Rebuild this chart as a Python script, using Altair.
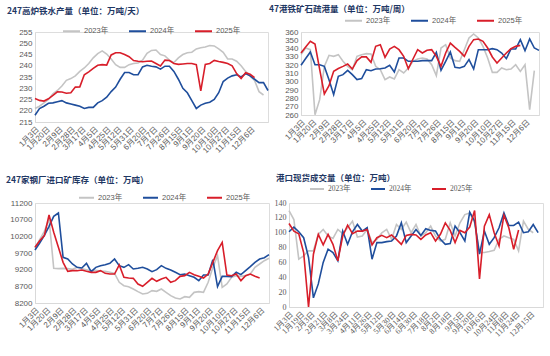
import altair as alt
import pandas as pd

YEARS = ["2023年", "2024年", "2025年"]
COLORS = ["#C4C4C4", "#1F4E9C", "#D81E2A"]

LABELS_A = ["1月3日", "1月20日", "2月9日", "2月28日", "3月17日", "4月5日", "4月25日",
            "5月12日", "5月31日", "6月20日", "7月7日", "7月26日", "8月15日", "9月1日",
            "9月20日", "10月10日", "10月27日", "11月15日", "12月6日"]
LABELS_B = ["1月3日", "1月19日", "2月3日", "2月21日", "3月8日", "3月24日", "4月11日",
            "4月26日", "5月12日", "5月30日", "6月14日", "6月30日", "7月18日", "8月2日",
            "8月18日", "9月5日", "9月20日", "10月6日", "10月24日", "11月8日", "11月24日",
            "12月15日"]

# 247 blast furnace hot metal output (10k t/day), weekly
c1_2023 = [221, 222, 223.5, 225, 227.5, 229, 231, 233.5, 234.3, 235.5, 237.5, 239, 241, 243.5,
           245.4, 246.6, 245.2, 243, 240.5, 239.3, 239.3, 240.5, 241, 241.2, 242.5, 245.5, 246.8,
           247, 245, 244.4, 242.5, 241.4, 243.5, 245, 245.8, 246, 247.5, 248, 248.3, 249, 248.8,
           247.5, 246, 243, 243, 242, 240, 237.5, 235.5, 233.5, 228.5, 227]
c1_2024 = [218, 221, 222, 223.3, 223.5, 224, 224.5, 223.5, 223, 222.5, 222, 221, 221.5, 221.5,
           223.5, 224.5, 226, 228.5, 230.5, 234, 237, 237, 236, 236, 239.5, 240.2, 239.8, 239.5,
           238.5, 239.8, 239.8, 237.5, 234, 230, 228, 224.5, 221, 222.5, 223.3, 223.8, 225, 228,
           233, 234.5, 235.5, 236, 235, 236.5, 235.5, 234, 232.5, 232.5, 229]
c1_2025 = [225.4, 224.6, 224.3, 225.3, 226.8, 228.4, 228.3, 227.8, 228, 230.5, 230.6, 236, 237.3,
           238.8, 240.2, 240.5, 240.3, 244.8, 245.8, 245.8, 245, 244, 242.3, 242, 241.8, 242,
           242.1, 241, 239.9, 242.5, 242.3, 241, 240.6, 240.8, 241, 241, 240.5, 228.8, 240.6,
           241, 242.4, 241.9, 241.5, 241, 240, 236.5, 234.3, 236.9, 236.2, 234.7]

# 47 ports iron ore port clearance (10k t/week)
c2_2023 = [333, 340.7, 338.7, 260.4, 278.5, 318.6, 331.9, 330.7, 332.7, 324.7, 318.6, 314.6, 330.7,
           332.7, 333.9, 333.5, 318.6, 314.6, 302.6, 305.8, 303.4, 314.6, 310.6, 316.6, 324.7,
           327.5, 328.7, 327.5, 320.6, 307.4, 340.7, 344.7, 328.7, 325.5, 324.7, 338.7, 352.8,
           357.6, 352.8, 342.7, 328.7, 311.4, 311.4, 316.6, 314.6, 315.4, 320.6, 312.6, 320.6,
           266.4, 313.4]
c2_2024 = [320, 328, 336, 320.6, 320.6, 318.6, 302.6, 284.5, 306.6, 308.6, 313.8, 308.6, 302.6,
           303.8, 314.6, 313.4, 315.4, 315.8, 316.6, 319.8, 311.8, 328.7, 328.7, 324.7, 324.7,
           324.7, 325.5, 325.5, 325.5, 335.5, 313.8, 324.7, 335.9, 317.4, 316.6, 318.6, 326.7,
           315.4, 338.7, 338.7, 338.7, 339.9, 338.7, 334.7, 327.9, 339.5, 339.5, 350.8, 337.5,
           351.6, 340.7, 337.9]
c2_2025 = [334.7, 342, 348.8, 345.5, 315, 285.3, 295.3, 312.6, 316, 318.6, 321.4, 315.4, 325.5,
           330, 330, 323.5, 342.7, 344.7, 329.5, 339.5, 342.7, 338.7, 330.7, 315.8, 327.5, 338.7,
           334.7, 338, 338.7, 330.7, 318.6, 334.7, 346.7, 341.5, 336.7, 330.7, 342.7, 350.8, 351.6,
           348.8, 340.7, 329.9, 322.7, 328.7, 334.7, 339.9, 342.7, 343.9]

# 247 steel mills imported ore inventory (10k t)
c3_2023 = [9850, 10100, 10350, 10720, 9240, 9230, 9240, 9230, 9210, 9270, 9230, 9200, 9170, 9180,
           9160, 9150, 9120, 9090, 8820, 8720, 8690, 8620, 8540, 8470, 8490, 8570, 8550, 8620,
           8520, 8420, 8350, 8320, 8390, 8370, 8520, 8540, 8520, 8820, 9270, 9620, 8670, 8770,
           8970, 9020, 9000, 9020, 9070, 9270, 9370, 9470, 9540]
c3_2024 = [9790, 10000, 10230, 10500, 10800, 10900, 9570, 9520, 9370, 9270, 9250, 9390, 9140, 9270,
           9320, 9350, 9390, 9520, 9320, 9270, 9350, 9220, 9240, 9270, 9220, 9140, 9200, 9320,
           9240, 9190, 9120, 9050, 9070, 9020, 8970, 8870, 9040, 9040, 9500, 8690, 9000, 9000,
           8990, 9120, 9050, 9170, 9290, 9420, 9520, 9560, 9650]
c3_2025 = [9870, 10070, 10220, 10840, 10320, 9870, 9420, 9150, 9170, 9170, 9190, 9150, 9120, 9120,
           9170, 9090, 9070, 9070, 9340, 8970, 8950, 8940, 8770, 8700, 8820, 8940, 8850, 8920,
           8970, 8820, 8870, 9000, 9020, 9120, 9050, 9000, 8950, 9070, 9420, 9770, 10020, 9040,
           9020, 9070, 8870, 9020, 9070, 9000, 8950]

# port spot trading volume (10k t)
c4_2023 = [129.8, 117.8, 64.4, 68.9, 75.6, 75.6, 97.8, 104.4, 95.6, 92.4, 104.4, 98.7, 106.7, 115.6,
           94.2, 95.6, 104.4, 86.7, 91.1, 100, 104.4, 91.1, 111.1, 104.4, 114.2, 100, 111.1, 95.6,
           100, 108.9, 95.6, 88.9, 91.1, 113.3, 95.6, 113.3, 124.4, 126.7, 113.3, 73.3, 73.3, 74.7,
           76.4, 91.1, 95.6, 93.3, 91.1, 75.6, 115.6, 104.4, 100]
c4_2024 = [101.3, 107.6, 101.3, 93.3, 66.7, 12.4, 31.1, 60, 77.8, 73.3, 62.2, 102.2, 84.4, 101.3,
           111.1, 102.2, 106.7, 64.4, 86.7, 86.7, 88, 88.9, 95.6, 113.3, 86.7, 95.6, 104.4, 96.4,
           105.3, 103.1, 102.2, 91.1, 84.4, 85.3, 108.9, 100, 88.9, 127.6, 115.6, 71.1, 102.2,
           84.4, 93.3, 106.7, 126.7, 109.8, 109.8, 114.2, 100, 101.3, 111.1, 100]
c4_2025 = [112.4, 102, 98.7, 73.3, 0, 71, 97.8, 83.6, 97.8, 84.4, 62.2, 95.6, 110.2, 98.7, 102.2,
           102.2, 104.4, 83.6, 93.3, 96.4, 93.3, 96.9, 91.1, 84.4, 96.4, 97.8, 96.9, 91.1, 96.9,
           100, 88.9, 97.8, 113.3, 103.1, 86.7, 103.1, 100, 107.6, 129.8, 37.8, 108.9, 124.4, 100,
           82.2, 123.6, 106.7, 77.8, 103.6]

SANS = "Liberation Sans, Noto Sans CJK SC"
SERIF = "Liberation Serif, Noto Sans CJK SC"
TXT = "#595959"
LINE = "#D9D9D9"
MONTH_DAYS = [31, 28, 31, 30, 31, 30, 31, 31, 30, 31, 30, 31]


def doy(label):
    m, d = label.replace("日", "").split("月")
    return sum(MONTH_DAYS[:int(m) - 1]) + int(d)


def panel(title, title_dx, title_offset, series, labels, ydom, ystep, width, height, n_weeks,
          legend_x, legend_y, gap, font, sym):
    rows = []
    for yr, vals in zip(YEARS, series):
        for i, v in enumerate(vals):
            rows.append({"day": 3 + 7 * i, "value": v, "year": yr})
    df = pd.DataFrame(rows)
    ticks = [doy(s) for s in labels]
    expr = ("[" + ",".join("'%s'" % s for s in labels) + "][indexof(["
            + ",".join(str(t) for t in ticks) + "], datum.value)]")
    yvals = list(range(ydom[0], ydom[1] + 1, ystep))
    pad = "\u00a0" * gap
    return alt.Chart(df, title=alt.TitleParams(
        title, anchor="start", frame="group", dx=title_dx, offset=title_offset, fontSize=8.5,
        fontWeight="bold", color="#1F3864", font="Noto Sans CJK SC")
    ).mark_line(strokeWidth=1.6).encode(
        x=alt.X("day:Q", scale=alt.Scale(domain=[3, 3 + 7 * n_weeks], nice=False, zero=False),
                axis=alt.Axis(values=ticks, labelExpr=expr, labelAngle=-45, title=None,
                              grid=False, ticks=False, domainColor=LINE, labelFont=font,
                              labelFontSize=8, labelColor=TXT, labelPadding=3,
                              labelOverlap=False, labelFlush=False)),
        y=alt.Y("value:Q", scale=alt.Scale(domain=ydom, nice=False, zero=False),
                axis=alt.Axis(values=yvals, format="d", title=None, grid=False, ticks=False,
                              domainColor=LINE, labelFont=font, labelFontSize=8,
                              labelColor=TXT, labelPadding=3, labelFlush=False)),
        color=alt.Color("year:N", scale=alt.Scale(domain=YEARS, range=COLORS),
                        legend=alt.Legend(title=None, orient="none", legendX=legend_x,
                                          legendY=legend_y, direction="horizontal",
                                          symbolType="stroke", symbolStrokeWidth=2,
                                          symbolSize=sym, labelFont=font,
                                          labelFontSize=7.5, labelColor=TXT,
                                          labelExpr="datum.label + '%s'" % pad,
                                          columnPadding=16, padding=0, labelOffset=3)),
    ).properties(width=width, height=height)


p1 = panel("247高炉铁水产量（单位：万吨/天）", -28, 6.25, [c1_2023, c1_2024, c1_2025], LABELS_A,
           [215, 255], 5, 233, 90, 52, 27, -10.5, 3, SANS, 289)
p2 = panel("47港铁矿石疏港量（单位：万吨/周）", -32, -2.25, [c2_2023, c2_2024, c2_2025], LABELS_A,
           [260, 360], 10, 238, 83, 51, 43, -21, 0, SANS, 289)
p3 = panel("247家钢厂进口矿库存（单位：万吨）", -29, 4.75, [c3_2023, c3_2024, c3_2025], LABELS_A,
           [8200, 11200], 500, 234, 100, 50, 43, -14, 0, SANS, 225)
p4 = panel("港口现货成交量（单位：万吨）", -13, -1, [c4_2023, c4_2024, c4_2025], LABELS_B,
           [0, 140], 20, 254, 104, 52, 20, -22, 10, SERIF, 196)


def res(c):
    return c.resolve_scale(color="independent", x="independent", y="independent").resolve_legend(
        color="independent")


row1 = res(alt.hconcat(p1, p2, spacing=33, bounds="flush"))
row2 = res(alt.hconcat(p3, p4, spacing=20, bounds="flush"))
chart = res(alt.vconcat(row1, row2, spacing=17)).properties(
    padding={"left": 5, "top": 4, "right": 0, "bottom": 0}
).configure_view(stroke=None).configure(background="white")

chart.save("out.html", embed_options={"renderer": "svg", "actions": False})
